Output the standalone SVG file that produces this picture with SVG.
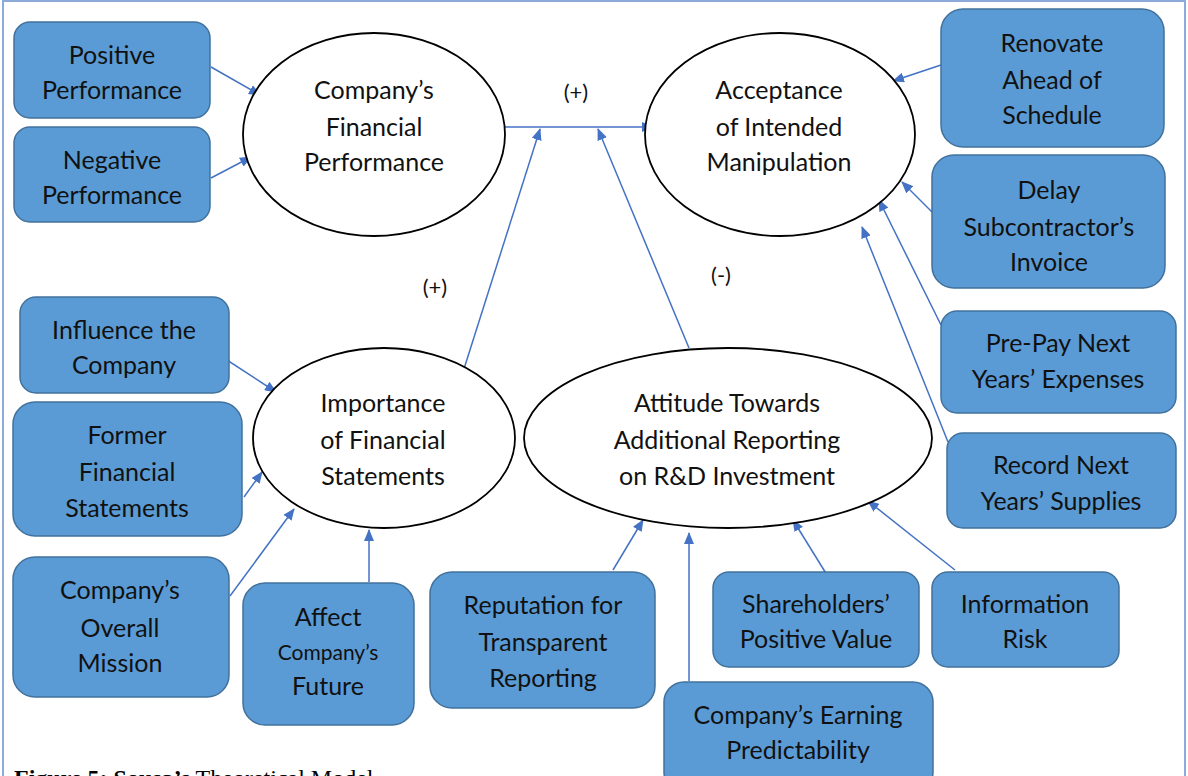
<svg xmlns="http://www.w3.org/2000/svg" width="1188" height="776" viewBox="0 0 1188 776">
  <defs>
    <marker id="arr" viewBox="0 0 12 10" refX="11" refY="5" markerWidth="12" markerHeight="10" markerUnits="userSpaceOnUse" orient="auto">
      <path d="M0,0 L12,5 L0,10 Z" fill="#4472C4"/>
    </marker>
    <style>
      .box { fill: #5B9BD5; stroke: #41719C; stroke-width: 1.5; }
      .oval { fill: #FFFFFF; stroke: #000000; stroke-width: 1.8; }
      .lbl { font-family: Lato, "Liberation Sans", sans-serif; font-size: 25px; fill: #111111; text-anchor: middle; }
      .sm { font-size: 21px; }
      .sign { font-family: Lato, "Liberation Sans", sans-serif; font-size: 22px; fill: #111111; text-anchor: middle; }
      .link { fill: none; stroke: #4472C4; stroke-width: 1.5; marker-end: url(#arr); }
      .cap { font-family: "Liberation Serif", serif; font-size: 24px; fill: #000000; }
    </style>
  </defs>

  <rect x="0" y="0" width="1188" height="776" fill="#FFFFFF"/>
  <!-- outer frame -->
  <rect x="3" y="1" width="1182" height="820" fill="none" stroke="#8EAADB" stroke-width="2"/>

  <!-- connectors -->
  <g id="connectors">
    <line class="link" x1="211" y1="67" x2="260" y2="95"/>
    <line class="link" x1="211" y1="178" x2="251" y2="157"/>
    <line class="link" x1="505" y1="127" x2="653" y2="127"/>
    <line class="link" x1="941" y1="65" x2="893" y2="81"/>
    <line class="link" x1="942" y1="222" x2="902" y2="182"/>
    <line class="link" x1="941" y1="325" x2="879" y2="200"/>
    <line class="link" x1="948" y1="442" x2="862" y2="227"/>
    <line class="link" x1="463" y1="372" x2="540" y2="129"/>
    <line class="link" x1="689" y1="348" x2="598" y2="129"/>
    <line class="link" x1="210" y1="349" x2="276" y2="392"/>
    <line class="link" x1="244" y1="497" x2="262" y2="472"/>
    <line class="link" x1="230" y1="596" x2="294" y2="509"/>
    <line class="link" x1="369" y1="582" x2="369" y2="530"/>
    <line class="link" x1="613" y1="570" x2="643" y2="520"/>
    <line class="link" x1="689" y1="681" x2="689" y2="533"/>
    <line class="link" x1="827" y1="575" x2="793" y2="520"/>
    <line class="link" x1="955" y1="570" x2="868" y2="501"/>
  </g>

  <!-- sign labels -->
  <text class="sign" x="576" y="100">(+)</text>
  <text class="sign" x="435" y="295">(+)</text>
  <text class="sign" x="721" y="283">(-)</text>

  <!-- construct ovals -->
  <g id="financial-performance">
    <ellipse class="oval" cx="374" cy="134.5" rx="131" ry="101.5"/>
    <text class="lbl" x="374" y="99">Company’s</text>
    <text class="lbl" x="374" y="136">Financial</text>
    <text class="lbl" x="374" y="171">Performance</text>
  </g>
  <g id="acceptance">
    <ellipse class="oval" cx="780" cy="134.5" rx="135" ry="101.5"/>
    <text class="lbl" x="779" y="99">Acceptance</text>
    <text class="lbl" x="779" y="136">of Intended</text>
    <text class="lbl" x="779" y="171">Manipulation</text>
  </g>
  <g id="importance">
    <ellipse class="oval" cx="384" cy="438" rx="131" ry="90"/>
    <text class="lbl" x="383" y="412">Importance</text>
    <text class="lbl" x="383" y="449">of Financial</text>
    <text class="lbl" x="383" y="485">Statements</text>
  </g>
  <g id="attitude">
    <ellipse class="oval" cx="728" cy="438" rx="204" ry="90"/>
    <text class="lbl" x="727" y="412">Attitude Towards</text>
    <text class="lbl" x="727" y="449">Additional Reporting</text>
    <text class="lbl" x="727" y="485">on R&amp;D Investment</text>
  </g>

  <!-- indicator boxes -->
  <g id="positive-performance">
    <rect class="box" x="14" y="22" width="196" height="96" rx="16"/>
    <text class="lbl" x="112" y="64">Positive</text>
    <text class="lbl" x="112" y="99">Performance</text>
  </g>
  <g id="negative-performance">
    <rect class="box" x="14" y="127" width="196" height="95" rx="16"/>
    <text class="lbl" x="112" y="169">Negative</text>
    <text class="lbl" x="112" y="204">Performance</text>
  </g>
  <g id="renovate">
    <rect class="box" x="941" y="9" width="223" height="138" rx="22"/>
    <text class="lbl" x="1052" y="52">Renovate</text>
    <text class="lbl" x="1052" y="89">Ahead of</text>
    <text class="lbl" x="1052" y="124">Schedule</text>
  </g>
  <g id="delay-invoice">
    <rect class="box" x="932" y="155" width="233" height="133" rx="22"/>
    <text class="lbl" x="1049" y="199">Delay</text>
    <text class="lbl" x="1049" y="236">Subcontractor’s</text>
    <text class="lbl" x="1049" y="271">Invoice</text>
  </g>
  <g id="prepay-expenses">
    <rect class="box" x="941" y="311" width="235" height="102" rx="16"/>
    <text class="lbl" x="1058" y="352">Pre-Pay Next</text>
    <text class="lbl" x="1058" y="388">Years’ Expenses</text>
  </g>
  <g id="record-supplies">
    <rect class="box" x="947" y="433" width="229" height="95" rx="16"/>
    <text class="lbl" x="1061" y="474">Record Next</text>
    <text class="lbl" x="1061" y="510">Years’ Supplies</text>
  </g>
  <g id="influence-company">
    <rect class="box" x="20" y="297" width="209" height="96" rx="16"/>
    <text class="lbl" x="124" y="339">Influence the</text>
    <text class="lbl" x="124" y="374">Company</text>
  </g>
  <g id="former-statements">
    <rect class="box" x="13" y="402" width="229" height="134" rx="22"/>
    <text class="lbl" x="127" y="444">Former</text>
    <text class="lbl" x="127" y="481">Financial</text>
    <text class="lbl" x="127" y="517">Statements</text>
  </g>
  <g id="overall-mission">
    <rect class="box" x="13" y="557" width="216" height="140" rx="22"/>
    <text class="lbl" x="120" y="599">Company’s</text>
    <text class="lbl" x="120" y="637">Overall</text>
    <text class="lbl" x="120" y="672">Mission</text>
  </g>
  <g id="affect-future">
    <rect class="box" x="243" y="583" width="171" height="142" rx="22"/>
    <text class="lbl" x="328" y="626">Affect</text>
    <text class="lbl sm" x="328" y="660">Company’s</text>
    <text class="lbl" x="328" y="695">Future</text>
  </g>
  <g id="reputation">
    <rect class="box" x="430" y="572" width="225" height="136" rx="22"/>
    <text class="lbl" x="543" y="614">Reputation for</text>
    <text class="lbl" x="543" y="651">Transparent</text>
    <text class="lbl" x="543" y="687">Reporting</text>
  </g>
  <g id="shareholder-value">
    <rect class="box" x="713" y="572" width="206" height="95" rx="16"/>
    <text class="lbl" x="816" y="613">Shareholders’</text>
    <text class="lbl" x="816" y="648">Positive Value</text>
  </g>
  <g id="information-risk">
    <rect class="box" x="932" y="572" width="187" height="95" rx="16"/>
    <text class="lbl" x="1025" y="613">Information</text>
    <text class="lbl" x="1025" y="648">Risk</text>
  </g>
  <g id="earning-predictability">
    <rect class="box" x="664" y="682" width="269" height="110" rx="20"/>
    <text class="lbl" x="798" y="724">Company’s Earning</text>
    <text class="lbl" x="798" y="759">Predictability</text>
  </g>

  <!-- figure caption (runs past the lower edge) -->
  <text class="cap" x="14" y="786"><tspan font-weight="bold">Figure 5:</tspan> <tspan font-weight="bold">Sousa’s</tspan> Theoretical Model</text>
</svg>
